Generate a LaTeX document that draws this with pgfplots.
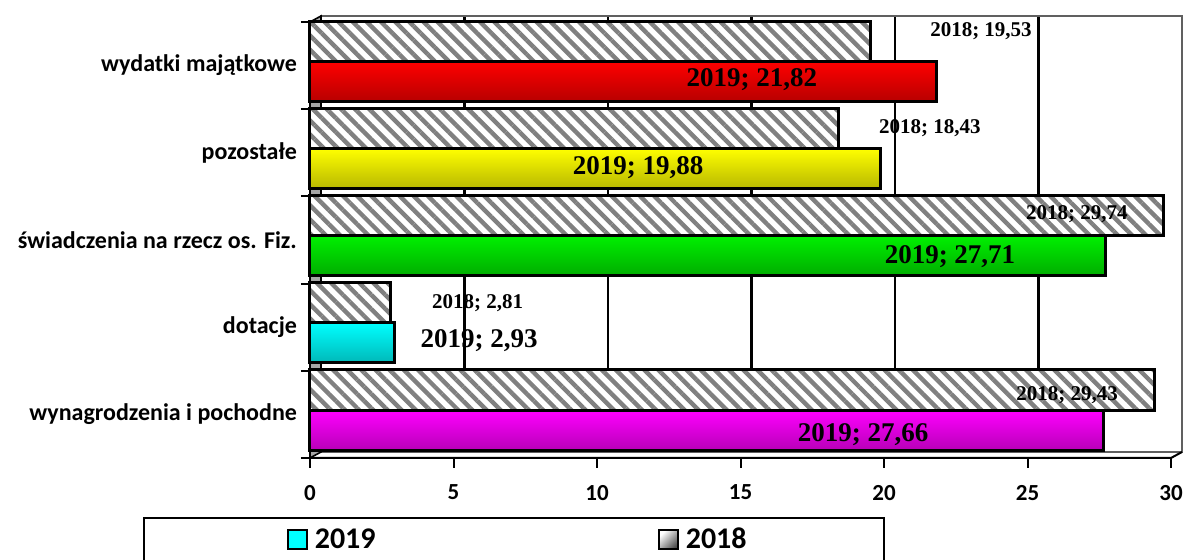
\documentclass[border=0pt]{standalone}
\usepackage{fontspec}
\setmainfont{Carlito}
\newfontfamily\serifb{Liberation Serif}
\usepackage{pgfplots}
\pgfplotsset{compat=1.18}
\usetikzlibrary{patterns.meta}

\definecolor{c19a}{RGB}{255,0,255}
\definecolor{c19b}{RGB}{0,255,255}
\definecolor{c19c}{RGB}{0,240,0}
\definecolor{c19d}{RGB}{255,255,0}
\definecolor{c19e}{RGB}{255,0,0}

\newcommand\labold{\serifb\bfseries\fontsize{10.5}{12}\selectfont}
\newcommand\labnew{\serifb\bfseries\fontsize{13.5}{15}\selectfont}

\pgfplotsset{
  bar19/.style={xbar, bar width=0.46, bar shift=-0.18, draw=black, line width=1.5pt,
    top color=#1, bottom color=#1!72!black, forget plot},
}

\begin{document}
\begin{tikzpicture}
\path[use as bounding box] (0,0) rectangle (592pt,280pt);

% back wall with grid lines
\begin{axis}[
  at={(160.5pt,54pt)}, anchor=south west,
  scale only axis, width=430.5pt, height=218pt,
  xmin=0, xmax=30, ymin=0.5, ymax=5.5,
  xtick={5,10,...,25}, ytick=\empty, xticklabels=\empty,
  xmajorgrids, major grid style={black, line width=1.2pt},
  major tick length=0pt,
  axis line style={draw=gray!75!black, line width=1.2pt},
  legend style={at={(axis description cs:0.3914,-0.2018)}, anchor=west,
    draw=none, fill=none, inner sep=0pt, nodes={inner sep=0pt},
    font=\bfseries\fontsize{15}{17}\selectfont},
]
\addlegendimage{legend image code/.code={
  \shade[left color=white, right color=gray!60!black, shading angle=45] (0pt,-4.75pt) rectangle (9.5pt,4.75pt);
  \draw[black, line width=1pt] (0pt,-4.75pt) rectangle (9.5pt,4.75pt);
  \path (13pt,0pt);}}
\addlegendentry{2018}
\end{axis}

% front plane with bars
\begin{axis}[
  at={(155pt,51pt)}, anchor=south west,
  scale only axis, width=430.5pt, height=218pt,
  xmin=0, xmax=30, ymin=0.5, ymax=5.5,
  axis line style={draw=none},
  xtick={0,5,...,30},
  ytick={1,2,3,4,5},
  yticklabels={wynagrodzenia i pochodne,dotacje,świadczenia na rzecz os. Fiz.,pozostałe,wydatki majątkowe},
  minor ytick={0.5,1.5,...,5.5},
  xtick pos=bottom, ytick pos=left,
  tick align=outside,
  major tick length=5pt, minor tick length=4.5pt,
  major y tick style={draw=none},
  tick style={black, line width=1pt},
  /pgf/number format/assume math mode=true,
  ticklabel style={font=\bfseries\fontsize{11.5}{13}\selectfont},
  xticklabel style={yshift=-5pt},
  yticklabel style={font=\bfseries\fontsize{12}{14}\selectfont, xshift=2pt},
  legend style={at={(axis description cs:-0.0267,-0.188)}, anchor=west,
    draw=none, fill=none, inner sep=0pt, nodes={inner sep=0pt},
    font=\bfseries\fontsize{15}{17}\selectfont},
  clip=false,
]
% left wall and floor edge
\filldraw[fill=gray!70, draw=black, line width=0.8pt]
  (rel axis cs:0,0) -- (rel axis cs:0,1) -- (rel axis cs:0.0128,1.0138) -- (rel axis cs:0.0128,0.0138) -- cycle;
\draw[black, line width=1pt] (rel axis cs:0,0) -- (rel axis cs:1,0) -- (rel axis cs:1.0128,0.0138);

% 2018
\addplot[xbar, bar width=0.46, bar shift=0.28, draw=black, line width=1.5pt,
  fill=white, postaction={pattern={Lines[angle=-45,distance=5pt,line width=2.2pt]}, pattern color=gray},
  forget plot]
  coordinates {(29.43,1) (2.81,2) (29.74,3) (18.43,4) (19.53,5)};

% 2019
\addplot[bar19=c19a] coordinates {(27.66,1)};
\addplot[bar19=c19b] coordinates {(2.93,2)};
\addplot[bar19=c19c] coordinates {(27.71,3)};
\addplot[bar19=c19d] coordinates {(19.88,4)};
\addplot[bar19=c19e] coordinates {(21.82,5)};

\addlegendimage{legend image code/.code={
  \draw[fill=c19b, draw=black, line width=1pt] (0pt,-4.75pt) rectangle (9.5pt,4.75pt);
  \path (13pt,0pt);}}
\addlegendentry{2019}

% data labels
\node[font=\labold] at (axis cs:23.38,5.397) {2018; 19,53};
\node[font=\labnew] at (axis cs:15.40,4.835) {2019; 21,82};
\node[font=\labold] at (axis cs:21.60,4.284) {2018; 18,43};
\node[font=\labnew] at (axis cs:11.43,3.826) {2019; 19,88};
\node[font=\labold] at (axis cs:26.72,3.298) {2018; 29,74};
\node[font=\labnew] at (axis cs:22.30,2.805) {2019; 27,71};
\node[font=\labold] at (axis cs:5.84,2.278) {2018; 2,81};
\node[font=\labnew] at (axis cs:5.89,1.842) {2019; 2,93};
\node[font=\labold] at (axis cs:26.38,1.222) {2018; 29,43};
\node[font=\labnew] at (axis cs:19.27,0.77) {2019; 27,66};
\end{axis}

% legend frame
\draw[black, line width=1.2pt] (72pt,-5pt) -- (72pt,21pt) -- (442pt,21pt) -- (442pt,-5pt);
\end{tikzpicture}
\end{document}
